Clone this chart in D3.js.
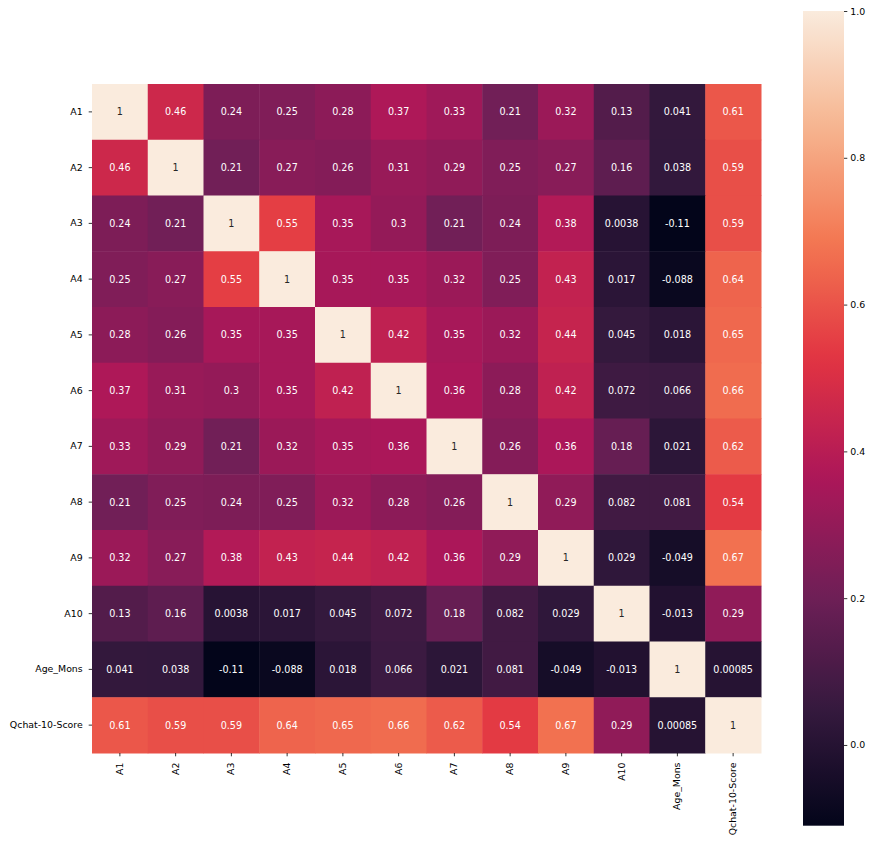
<!DOCTYPE html>
<html>
<head>
<meta charset="utf-8">
<script src="https://cdn.jsdelivr.net/npm/d3@7"></script>
<style>
  html, body { margin: 0; padding: 0; background: #fff; }
  text { font-family: "DejaVu Sans", sans-serif; }
</style>
</head>
<body>
<div id="chart"></div>
<script>
// ---- data ----
const labels = ["A1","A2","A3","A4","A5","A6","A7","A8","A9","A10","Age_Mons","Qchat-10-Score"];
const rowA1   = [1, 0.46, 0.24, 0.25, 0.28, 0.37, 0.33, 0.21, 0.32, 0.13, 0.041, 0.61];
const rowA2   = [0.46, 1, 0.21, 0.27, 0.26, 0.31, 0.29, 0.25, 0.27, 0.16, 0.038, 0.59];
const rowA3   = [0.24, 0.21, 1, 0.55, 0.35, 0.3, 0.21, 0.24, 0.38, 0.0038, -0.11, 0.59];
const rowA4   = [0.25, 0.27, 0.55, 1, 0.35, 0.35, 0.32, 0.25, 0.43, 0.017, -0.088, 0.64];
const rowA5   = [0.28, 0.26, 0.35, 0.35, 1, 0.42, 0.35, 0.32, 0.44, 0.045, 0.018, 0.65];
const rowA6   = [0.37, 0.31, 0.3, 0.35, 0.42, 1, 0.36, 0.28, 0.42, 0.072, 0.066, 0.66];
const rowA7   = [0.33, 0.29, 0.21, 0.32, 0.35, 0.36, 1, 0.26, 0.36, 0.18, 0.021, 0.62];
const rowA8   = [0.21, 0.25, 0.24, 0.25, 0.32, 0.28, 0.26, 1, 0.29, 0.082, 0.081, 0.54];
const rowA9   = [0.32, 0.27, 0.38, 0.43, 0.44, 0.42, 0.36, 0.29, 1, 0.029, -0.049, 0.67];
const rowA10  = [0.13, 0.16, 0.0038, 0.017, 0.045, 0.072, 0.18, 0.082, 0.029, 1, -0.013, 0.29];
const rowAge  = [0.041, 0.038, -0.11, -0.088, 0.018, 0.066, 0.021, 0.081, -0.049, -0.013, 1, 0.00085];
const rowQchat= [0.61, 0.59, 0.59, 0.64, 0.65, 0.66, 0.62, 0.54, 0.67, 0.29, 0.00085, 1];
const matrix = [rowA1,rowA2,rowA3,rowA4,rowA5,rowA6,rowA7,rowA8,rowA9,rowA10,rowAge,rowQchat];
const colorbarTicks = [0.0, 0.2, 0.4, 0.6, 0.8, 1.0];

// rocket colormap approximation
const rocketStops = ["#03051a","#35193e","#701f57","#ad1759","#e13342","#f37651","#f6b48f","#faebdd"];
const rocket = d3.scaleLinear()
  .domain(d3.range(rocketStops.length).map(i => i/(rocketStops.length-1)))
  .range(rocketStops).interpolate(d3.interpolateRgb).clamp(true);

// ---- layout ----
const W = 873, H = 845;
const hm = {left: 92, top: 84, size: 669};
const cb = {left: 803, width: 41, top: 11, bottom: 825.7};

const svg = d3.select("#chart").append("svg").attr("width", W).attr("height", H);

const x = d3.scaleBand().domain(labels).range([hm.left, hm.left + hm.size]);
const y = d3.scaleBand().domain(labels).range([hm.top, hm.top + hm.size]);

const flat = [];
matrix.forEach((row, i) => row.forEach((v, j) => flat.push({r: labels[i], c: labels[j], v})));
const vmin = d3.min(flat, d => d.v), vmax = d3.max(flat, d => d.v);
const norm = d3.scaleLinear().domain([vmin, vmax]).range([0, 1]);
const color = v => rocket(norm(v));

const fmt2 = d3.format(".2~g");
const fmt = v => fmt2(v).replace("\u2212", "-");

function lum(c) {
  const rgb = d3.rgb(c);
  const f = u => { u /= 255; return u <= 0.03928 ? u/12.92 : Math.pow((u+0.055)/1.055, 2.4); };
  return 0.2126*f(rgb.r) + 0.7152*f(rgb.g) + 0.0722*f(rgb.b);
}

const cells = svg.append("g");
cells.selectAll("rect").data(flat).join("rect")
  .attr("x", d => x(d.c)).attr("y", d => y(d.r))
  .attr("width", x.bandwidth() + 0.5).attr("height", y.bandwidth() + 0.5)
  .attr("fill", d => color(d.v));

cells.selectAll("text").data(flat).join("text")
  .attr("x", d => x(d.c) + x.bandwidth()/2)
  .attr("y", d => y(d.r) + y.bandwidth()/2)
  .attr("text-anchor", "middle").attr("dominant-baseline", "central")
  .attr("font-size", "9.6px")
  .attr("fill", d => lum(color(d.v)) > 0.408 ? "#262626" : "#ffffff")
  .text(d => fmt(d.v));

// y axis
const yAxis = svg.append("g").attr("transform", `translate(${hm.left},0)`)
  .call(d3.axisLeft(y).tickSize(3.3).tickPadding(6));
yAxis.select(".domain").remove();
yAxis.selectAll("text").attr("font-size", "9.4px").attr("fill", "#000").attr("font-family", "DejaVu Sans");
yAxis.selectAll("line").attr("stroke", "#000").attr("stroke-width", 0.8);

// x axis
const xAxis = svg.append("g").attr("transform", `translate(0,${hm.top + hm.size})`)
  .call(d3.axisBottom(x).tickSize(3.3).tickPadding(6));
xAxis.select(".domain").remove();
xAxis.selectAll("line").attr("stroke", "#000").attr("stroke-width", 0.8);
xAxis.selectAll("text")
  .attr("font-size", "9.4px").attr("fill", "#000").attr("font-family", "DejaVu Sans")
  .attr("transform", "translate(0,9.5) rotate(-90)")
  .attr("text-anchor", "end").attr("dy", "0.32em").attr("x", 0).attr("y", 0);

// colorbar
const cbScale = d3.scaleLinear().domain([vmin, vmax]).range([cb.bottom, cb.top]);
const defs = svg.append("defs");
const grad = defs.append("linearGradient").attr("id", "cbgrad")
  .attr("x1", 0).attr("y1", 1).attr("x2", 0).attr("y2", 0);
grad.selectAll("stop").data(d3.range(0, 1.0001, 0.02)).join("stop")
  .attr("offset", d => d).attr("stop-color", d => rocket(d));
svg.append("rect").attr("x", cb.left).attr("y", cb.top)
  .attr("width", cb.width).attr("height", cb.bottom - cb.top)
  .attr("fill", "url(#cbgrad)");
const cbAxis = svg.append("g").attr("transform", `translate(${cb.left + cb.width},0)`)
  .call(d3.axisRight(cbScale).tickValues(colorbarTicks).tickFormat(d3.format(".1f")).tickSize(3.3).tickPadding(3));
cbAxis.select(".domain").remove();
cbAxis.selectAll("line").attr("stroke", "#000").attr("stroke-width", 0.8);
cbAxis.selectAll("text").attr("font-size", "9.4px").attr("fill", "#000").attr("font-family", "DejaVu Sans");
</script>
</body>
</html>
